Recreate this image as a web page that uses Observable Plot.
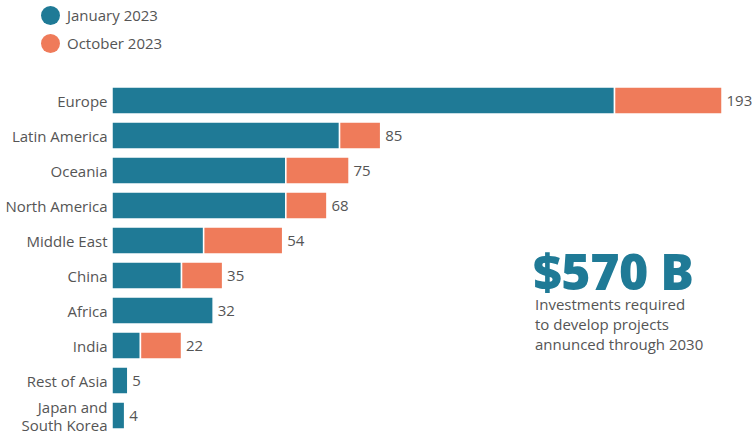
<!DOCTYPE html>
<html><head><meta charset="utf-8">
<script src="https://cdn.jsdelivr.net/npm/d3@7"></script>
<script src="https://cdn.jsdelivr.net/npm/@observablehq/plot@0.6"></script>
<style>
body{margin:0;background:#fff;font-family:"Open Sans",sans-serif;color:#555;}
#wrap{position:relative;width:755px;height:437px;overflow:hidden;}
.lg{position:absolute;left:41px;display:flex;align-items:center;font-size:15px;color:#555;}
.lg span.dot{display:inline-block;width:19px;height:19px;border-radius:50%;margin-right:7px;}
#chart{position:absolute;left:0;top:62px;}
#big{position:absolute;left:533px;top:251px;font-size:50px;font-weight:800;color:#1f7a96;line-height:40px;letter-spacing:-0.5px;}
#sub{position:absolute;left:535px;top:294px;font-size:15px;line-height:20px;color:#555;}
</style></head>
<body>
<div id="wrap">
  <div class="lg" id="lg1" style="top:5px"></div>
  <div class="lg" id="lg2" style="top:33px"></div>
  <div id="chart"></div>
  <div id="big">$570 B</div>
  <div id="sub">Investments required<br>to develop projects<br>annunced through 2030</div>
</div>
<script>
const regions = ["Europe","Latin America","Oceania","North America","Middle East","China","Africa","India","Rest of Asia","Japan and South Korea"];
const january = [159,72,55,55,29,22,32,9,5,4];
const october = [34,13,20,13,25,13,0,13,0,0];
const totals = [193,85,75,68,54,35,32,22,5,4];
const seriesNames = ["January 2023","October 2023"];
const seriesColors = ["#1f7a96","#ef7b5a"];

seriesNames.forEach((s,i)=>{
  const el = document.getElementById("lg"+(i+1));
  el.innerHTML = `<span class="dot" style="background:${seriesColors[i]}"></span>${s}`;
});

const rows = [];
regions.forEach((r,i)=>{
  rows.push({region:r, series:seriesNames[0], value:january[i]});
  if (october[i] > 0) rows.push({region:r, series:seriesNames[1], value:october[i]});
});
const totalRows = regions.map((r,i)=>({region:r, total:totals[i]}));

const chart = Plot.plot({
  width:755, height:375,
  marginLeft:112, marginRight:33, marginTop:19, marginBottom:2,
  style:{fontFamily:"'Open Sans',sans-serif", fontSize:"15px", color:"#555", background:"transparent"},
  x:{domain:[0,193], axis:null},
  y:{domain:regions, paddingInner:0.22, paddingOuter:0.11, label:null},
  color:{domain:seriesNames, range:seriesColors},
  marks:[
    Plot.axisY({tickSize:0, tickPadding:5, lineHeight:1.2, fill:"#555", label:null,
      tickFormat:d=> d==="Japan and South Korea" ? "Japan and\nSouth Korea" : d}),
    Plot.barX(rows, {x:"value", y:"region", fill:"series", stroke:"white", strokeWidth:1.5, order:seriesNames}),
    Plot.text(totalRows, {x:"total", y:"region", text:d=>String(d.total), textAnchor:"start", dx:4, fill:"#555", fontSize:15})
  ]
});
document.getElementById("chart").appendChild(chart);
</script>
</body></html>
